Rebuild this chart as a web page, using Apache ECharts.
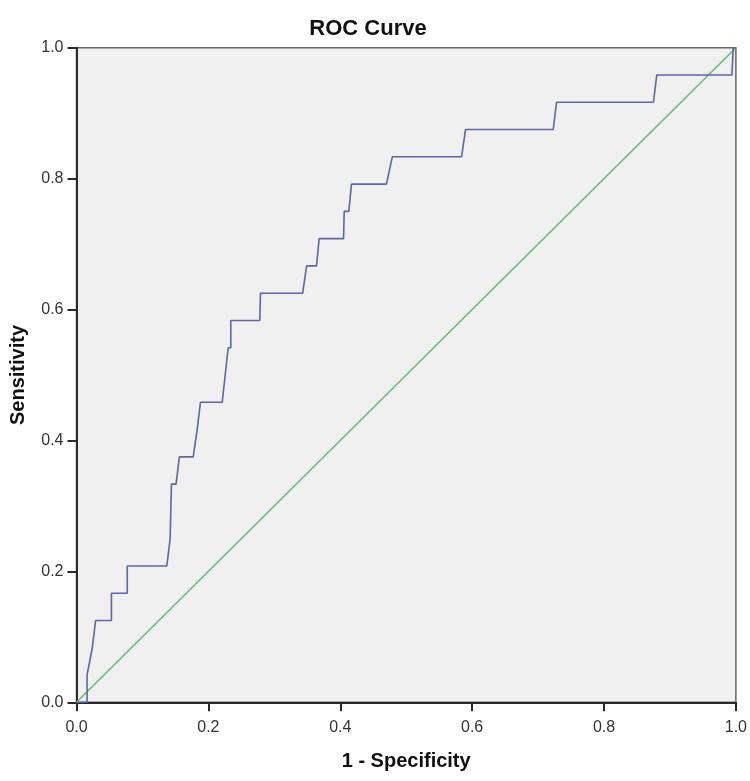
<!DOCTYPE html>
<html>
<head>
<meta charset="utf-8">
<script src="https://cdn.jsdelivr.net/npm/echarts@6/dist/echarts.min.js"></script>
<style>
  html, body { margin: 0; padding: 0; background: #fff; }
  #main { width: 750px; height: 781px; }
</style>
</head>
<body>
<div id="main"></div>
<script>
// ROC 曲线的坐标点 (1 - 特异度, 灵敏度)，灵敏度按 1/24 步进
var fpr = [0, 0.016, 0.016, 0.024, 0.029, 0.053, 0.053, 0.077, 0.077, 0.137, 0.142, 0.144, 0.151, 0.156,
  0.177, 0.183, 0.188, 0.221, 0.230, 0.234, 0.234, 0.278, 0.279, 0.343, 0.349, 0.364, 0.368, 0.405,
  0.406, 0.413, 0.417, 0.470, 0.479, 0.584, 0.590, 0.723, 0.728, 0.875, 0.880, 0.994, 0.996, 1];
var tprCount = [0, 0, 1, 2, 3, 3, 4, 4, 5, 5, 6, 8, 8, 9,
  9, 10, 11, 11, 13, 13, 14, 14, 15, 15, 16, 16, 17, 17,
  18, 18, 19, 19, 20, 20, 21, 21, 22, 22, 23, 23, 24, 24];
var positives = 24;
var refLine = [[0, 0], [1, 1]];
var tickLabels = ['0.0', '0.2', '0.4', '0.6', '0.8', '1.0'];

var rocData = fpr.map(function (x, i) { return [x, tprCount[i] / positives]; });

var myChart = echarts.init(document.getElementById('main'));
var font = 'Arial, "Liberation Sans", sans-serif';

function axisCfg(name, gap, pos) {
  return {
    type: 'value', min: 0, max: 1, interval: 0.2,
    name: name, nameLocation: 'middle', nameGap: gap,
    nameTextStyle: { fontFamily: font, fontSize: 20, fontWeight: 'bold', color: '#111' },
    axisLine: { show: true, onZero: false, lineStyle: { color: '#2a2a2a', width: 2 } },
    axisTick: { show: true, length: 9, lineStyle: { color: '#2a2a2a', width: 2 } },
    axisLabel: {
      fontFamily: font, fontSize: 16, color: '#333', margin: pos === 'x' ? 17 : 13,
      formatter: function (v) { return tickLabels[Math.round(v * 5)]; }
    },
    splitLine: { show: false }
  };
}

var option = {
  backgroundColor: '#fff',
  animation: false,
  title: {
    text: 'ROC Curve', left: 363, top: 13, textAlign: 'center',
    textStyle: { fontFamily: font, fontSize: 22, fontWeight: 'bold', color: '#111' }
  },
  grid: {
    left: 76.5, right: 14, top: 47.7, bottom: 78.7,
    show: true, backgroundColor: '#f0f0f0', borderColor: '#666', borderWidth: 1.5
  },
  xAxis: axisCfg('1 - Specificity', 49, 'x'),
  yAxis: axisCfg('Sensitivity', 48, 'y'),
  series: [
    {
      type: 'line', data: refLine, showSymbol: false, silent: true,
      lineStyle: { color: '#5cbf6b', width: 1.5 }
    },
    {
      type: 'line', data: rocData, showSymbol: false, silent: true,
      lineStyle: { color: '#5d67a6', width: 1.6 }
    }
  ]
};
myChart.setOption(option);
</script>
</body>
</html>
